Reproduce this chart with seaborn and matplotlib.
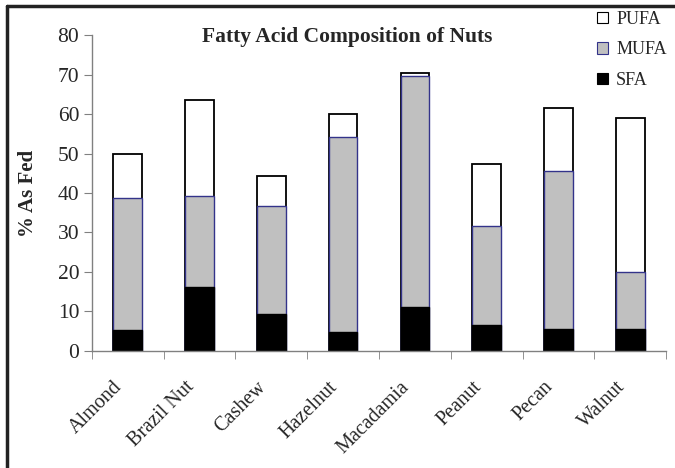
import numpy as np
import pandas as pd
import matplotlib
matplotlib.use("Agg")
import matplotlib.pyplot as plt
import matplotlib.transforms as mtransforms
import seaborn as sns
from matplotlib.patches import Patch
from matplotlib.lines import Line2D

sns.set_style("white")
plt.rcParams['font.family'] = ['Liberation Serif', 'DejaVu Serif']

nuts = ["Almond", "Brazil Nut", "Cashew", "Hazelnut", "Macadamia", "Peanut", "Pecan", "Walnut"]
sfa = [5.3, 16.2, 9.3, 4.8, 11.0, 6.5, 5.4, 5.6]
mufa = [33.4, 23.1, 27.5, 49.3, 58.7, 25.2, 40.2, 14.3]
pufa = [11.1, 24.2, 7.6, 5.9, 0.7, 15.6, 15.9, 39.2]

df = pd.DataFrame({"Nut": nuts, "SFA": sfa, "MUFA": mufa, "PUFA": pufa})
df["MUFA_top"] = df["SFA"] + df["MUFA"]
df["PUFA_top"] = df["MUFA_top"] + df["PUFA"]

fig = plt.figure(figsize=(6.75, 4.68), dpi=100)
ax = fig.add_axes([0.136, 0.2506, 0.851, 0.674])

# stacked by overlaying cumulative totals
sns.barplot(data=df, x="Nut", y="PUFA_top", color="white", edgecolor="black",
            linewidth=1.3, width=0.4, saturation=1, ax=ax)
sns.barplot(data=df, x="Nut", y="MUFA_top", color="#c0c0c0", edgecolor="#33338a",
            linewidth=1.0, width=0.4, saturation=1, ax=ax)
sns.barplot(data=df, x="Nut", y="SFA", color="black", edgecolor="black",
            linewidth=1.0, width=0.4, saturation=1, ax=ax)

ax.set_ylim(0, 80)
ax.set_xlim(-0.5, len(nuts) - 0.5)
ax.set_yticks(range(0, 81, 10))
ax.set_xlabel("")
ax.set_ylabel("")
for s in ["top", "right"]:
    ax.spines[s].set_visible(False)
for s in ["left", "bottom"]:
    ax.spines[s].set_color("#808080")
    ax.spines[s].set_linewidth(1.0)

ax.tick_params(axis="y", which="major", left=True, length=6, color="#808080",
               labelsize=15.5, pad=3)
ax.set_xticks(np.arange(-0.5, len(nuts), 1.0), minor=True)
ax.tick_params(axis="x", which="minor", bottom=True, length=6, color="#808080")
ax.tick_params(axis="x", which="major", bottom=False, length=0, labelsize=14.5, pad=10)
ax.set_xticklabels(nuts, rotation=45, ha="right", rotation_mode="anchor")
shift = mtransforms.ScaledTranslation(-0.15, -0.13, fig.dpi_scale_trans)
for lbl in ax.get_xticklabels():
    lbl.set_transform(lbl.get_transform() + shift)

fig.text(0.514, 1 - 37 / 468, "Fatty Acid Composition of Nuts", ha="center", va="center",
         fontsize=15.5, fontweight="bold")
fig.text(0.042, 1 - 193 / 468, "% As Fed", ha="center", va="center", rotation=90,
         fontsize=15, fontweight="bold")

handles = [
    Patch(facecolor="white", edgecolor="black", linewidth=0.8),
    Patch(facecolor="#c0c0c0", edgecolor="#33338a", linewidth=0.8),
    Patch(facecolor="black", edgecolor="black", linewidth=0.8),
]
fig.legend(handles, ["PUFA", "MUFA", "SFA"], loc="upper right",
           bbox_to_anchor=(1.012, 1.012), frameon=False, fontsize=13,
           handlelength=0.6, handleheight=0.6, handletextpad=0.45, labelspacing=0.75)

# outer frame (top and left edges visible)
fig.add_artist(Line2D([0.0105, 1.0], [1 - 6 / 468, 1 - 6 / 468], color="#222222", linewidth=2.5))
fig.add_artist(Line2D([0.0105, 0.0105], [0.0, 1 - 6 / 468], color="#222222", linewidth=2.5))

fig.savefig("out.png", dpi=100)
